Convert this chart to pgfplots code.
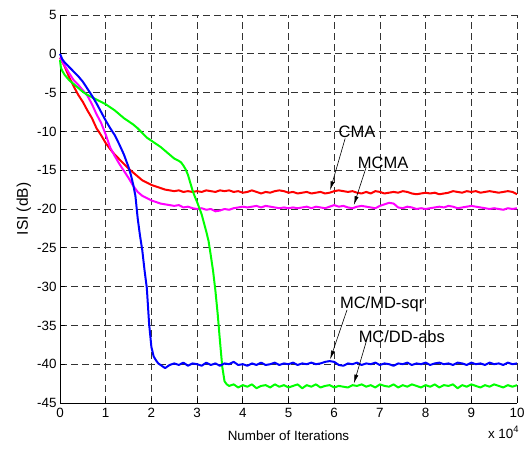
\documentclass[border=0pt]{standalone}
\usepackage{pgfplots}
\pgfplotsset{compat=1.18}
\usepackage{fontspec}
\setmainfont{Liberation Sans}
\usetikzlibrary{arrows.meta}
\begin{document}
\begin{tikzpicture}[x=1pt,y=1pt]
\useasboundingbox (0,0) rectangle (530,449);
\begin{axis}[
    at={(60pt,46pt)}, anchor=south west,
    scale only axis,
    width=457pt, height=388pt,
    xmin=0, xmax=10, ymin=-45, ymax=5,
    xtick={0,1,...,10}, ytick={-45,-40,...,5},
    axis lines=left,
    axis line style={-, black, line width=0.8pt},
    tick align=inside,
    major tick length=5pt,
    tick style={black, line width=0.8pt},
    grid=major,
    grid style={black!80, dash pattern=on 6.5pt off 4.5pt, line width=0.7pt},
    /pgf/number format/assume math mode=true,
    tick label style={font=\fontsize{13.4}{15}\selectfont},
    xticklabel style={yshift=-2pt},
    xlabel={Number of Iterations},
    ylabel={ISI (dB)},
    xlabel style={font=\fontsize{13.4}{15}\selectfont, at={(axis description cs:0.5,-0.085)}, anchor=center},
    ylabel style={font=\fontsize{15.5}{17}\selectfont, at={(axis description cs:-0.079,0.5)}, anchor=center},
    clip=false,
    every axis plot/.append style={line width=2pt, line join=round},
]
% CMA
\addplot[color={rgb,255:red,255;green,0;blue,0}] coordinates {
(0,-0.5) (0.1,-1.6) (0.2,-3.0) (0.3,-4.2) (0.4,-5.3) (0.5,-6.2) (0.6,-7.3) (0.7,-8.3)
(0.8,-9.6) (0.9,-10.5) (1.0,-11.5) (1.1,-12.3) (1.2,-13.0) (1.3,-13.6) (1.4,-14.2)
(1.5,-14.8) (1.6,-15.3) (1.7,-15.8) (1.8,-16.3) (1.9,-16.6) (2.0,-16.9) (2.1,-17.1)
(2.2,-17.3) (2.3,-17.5) (2.4,-17.6) (2.5,-17.7) (2.6,-17.6) (2.7,-17.8) (2.8,-17.7)
(2.9,-17.8) (3.0,-17.7) (3.1,-17.8) (3.2,-17.6) (3.3,-17.7) (3.4,-17.8) (3.5,-17.6)
(3.6,-17.7) (3.7,-17.6) (3.8,-17.8) (3.9,-17.7) (4.0,-17.9) (4.1,-17.8) (4.2,-17.6)
(4.3,-17.8) (4.4,-18.0) (4.5,-17.8) (4.6,-17.9) (4.7,-17.7) (4.8,-17.6) (4.9,-17.7)
(5.0,-17.9) (5.1,-17.8) (5.2,-18.0) (5.3,-17.9) (5.4,-17.8) (5.5,-18.0) (5.6,-17.9)
(5.7,-17.8) (5.8,-18.0) (5.9,-17.9) (6.0,-17.7) (6.1,-17.6) (6.2,-17.7) (6.3,-17.8)
(6.4,-17.7) (6.5,-17.9) (6.6,-18.0) (6.7,-17.8) (6.8,-18.0) (6.9,-17.7) (7.0,-17.8)
(7.1,-18.0) (7.2,-17.9) (7.3,-17.8) (7.4,-17.9) (7.5,-17.7) (7.6,-17.8) (7.7,-18.0)
(7.8,-18.1) (7.9,-18.0) (8.0,-17.9) (8.1,-18.0) (8.2,-17.9) (8.3,-18.1) (8.4,-18.0)
(8.5,-17.9) (8.6,-17.7) (8.7,-17.8) (8.8,-17.9) (8.9,-17.7) (9.0,-17.8) (9.1,-17.7)
(9.2,-17.9) (9.3,-17.8) (9.4,-17.7) (9.5,-17.8) (9.6,-17.9) (9.7,-17.8) (9.8,-17.7)
(9.9,-17.8) (10.0,-18.1)
};
% MCMA
\addplot[color={rgb,255:red,255;green,0;blue,255}] coordinates {
(0,-0.5) (0.1,-1.5) (0.2,-2.5) (0.3,-3.4) (0.4,-4.0) (0.5,-4.7) (0.6,-5.4) (0.7,-6.5)
(0.8,-7.8) (0.9,-8.9) (1.0,-10.4) (1.1,-12.1) (1.2,-13.2) (1.3,-14.2) (1.4,-15.1)
(1.5,-16.0) (1.6,-17.0) (1.7,-17.8) (1.8,-18.3) (1.9,-18.6) (2.0,-18.9) (2.1,-19.1)
(2.2,-19.3) (2.3,-19.4) (2.4,-19.5) (2.5,-19.6) (2.6,-19.5) (2.7,-19.8) (2.8,-19.7)
(2.9,-19.9) (3.0,-20.0) (3.1,-19.9) (3.2,-20.1) (3.3,-20.0) (3.4,-20.3) (3.5,-20.2)
(3.6,-20.0) (3.7,-20.1) (3.8,-19.9) (3.9,-19.8) (4.0,-19.7) (4.1,-19.8) (4.2,-19.7)
(4.3,-19.6) (4.4,-19.8) (4.5,-19.6) (4.6,-19.7) (4.7,-19.8) (4.8,-19.9) (4.9,-19.8)
(5.0,-19.9) (5.1,-19.8) (5.2,-19.9) (5.3,-19.8) (5.4,-19.7) (5.5,-19.9) (5.6,-19.7)
(5.7,-19.8) (5.8,-19.9) (5.9,-19.7) (6.0,-19.5) (6.1,-19.7) (6.2,-19.6) (6.3,-19.8)
(6.4,-19.9) (6.5,-19.7) (6.6,-19.6) (6.7,-19.7) (6.8,-19.8) (6.9,-19.9) (7.0,-19.6)
(7.1,-19.4) (7.2,-19.2) (7.3,-19.3) (7.4,-19.8) (7.5,-19.9) (7.6,-19.7) (7.7,-19.8)
(7.8,-20.0) (7.9,-19.9) (8.0,-20.0) (8.1,-19.9) (8.2,-19.8) (8.3,-19.7) (8.4,-19.8)
(8.5,-19.6) (8.6,-19.7) (8.7,-19.9) (8.8,-19.8) (8.9,-19.7) (9.0,-19.6) (9.1,-19.7)
(9.2,-19.8) (9.3,-19.9) (9.4,-20.0) (9.5,-19.9) (9.6,-20.0) (9.7,-20.1) (9.8,-19.9)
(9.9,-20.0) (10.0,-19.9)
};
% MC/DD-abs
\addplot[color={rgb,255:red,0;green,255;blue,0}] coordinates {
(0,-0.8) (0.02,-1.8) (0.05,-2.2) (0.1,-2.7) (0.2,-3.4) (0.3,-3.9) (0.4,-4.4) (0.5,-4.9)
(0.6,-5.3) (0.7,-5.6) (0.8,-5.9) (0.9,-6.2) (1.0,-6.5) (1.1,-6.9) (1.2,-7.3) (1.3,-7.8)
(1.4,-8.3) (1.5,-8.7) (1.6,-9.1) (1.7,-9.6) (1.8,-10.2) (1.9,-10.8) (2.0,-11.2)
(2.1,-11.6) (2.2,-12.0) (2.3,-12.5) (2.4,-13.0) (2.5,-13.5) (2.6,-13.8) (2.65,-14.0)
(2.7,-14.4) (2.75,-14.9) (2.8,-15.6) (2.85,-16.6) (2.9,-17.6) (2.95,-18.4) (3.0,-19.1)
(3.05,-19.9) (3.1,-20.7) (3.15,-21.8) (3.2,-22.9) (3.25,-24.1) (3.3,-26.0) (3.35,-28.0)
(3.4,-30.5) (3.45,-33.5) (3.5,-37.0) (3.55,-40.3) (3.6,-42.2) (3.65,-42.6)
(3.7,-42.8) (3.8,-42.6) (3.9,-43.0) (4.0,-42.7) (4.1,-42.9) (4.2,-42.6) (4.3,-43.1)
(4.4,-42.8) (4.5,-42.7) (4.6,-43.0) (4.7,-42.6) (4.8,-42.9) (4.9,-42.7) (5.0,-43.0)
(5.1,-42.8) (5.2,-42.6) (5.3,-43.1) (5.4,-42.7) (5.5,-42.9) (5.6,-42.6) (5.7,-43.0)
(5.8,-42.8) (5.9,-42.7) (6.0,-43.0) (6.1,-42.8) (6.2,-42.9) (6.3,-43.0) (6.4,-42.7)
(6.5,-42.8) (6.6,-42.6) (6.7,-42.9) (6.8,-42.7) (6.9,-43.0) (7.0,-42.6) (7.1,-42.8)
(7.2,-42.9) (7.3,-42.6) (7.4,-43.0) (7.5,-42.7) (7.6,-42.9) (7.7,-42.6) (7.8,-42.8)
(7.9,-43.0) (8.0,-42.7) (8.1,-42.9) (8.2,-42.6) (8.3,-43.0) (8.4,-42.7) (8.5,-42.8)
(8.6,-42.6) (8.7,-43.1) (8.8,-42.7) (8.9,-42.9) (9.0,-42.6) (9.1,-42.8) (9.2,-43.0)
(9.3,-42.7) (9.4,-42.9) (9.5,-42.6) (9.6,-42.8) (9.7,-43.0) (9.8,-42.7) (9.9,-42.9)
(10.0,-42.7)
};
% MC/MD-sqr
\addplot[color={rgb,255:red,0;green,0;blue,255}] coordinates {
(0,0) (0.05,-0.7) (0.1,-1.1) (0.2,-1.7) (0.3,-2.3) (0.4,-2.9) (0.5,-3.6) (0.6,-4.5)
(0.7,-5.4) (0.8,-6.4) (0.9,-7.5) (1.0,-8.6) (1.1,-9.6) (1.2,-10.5) (1.3,-11.7)
(1.4,-13.0) (1.5,-14.6) (1.55,-15.6) (1.6,-16.8) (1.65,-18.3) (1.7,-21.2) (1.75,-23.4)
(1.8,-25.3) (1.85,-27.9) (1.9,-30.2) (1.95,-34.8) (2.0,-37.8) (2.05,-39.0) (2.1,-39.5)
(2.15,-39.9) (2.2,-40.1) (2.3,-40.5) (2.4,-40.1) (2.5,-39.9) (2.6,-40.1) (2.7,-39.8)
(2.8,-40.2) (2.9,-39.9) (3.0,-40.0) (3.1,-40.2) (3.2,-39.8) (3.3,-40.1) (3.4,-39.9)
(3.5,-40.2) (3.6,-39.9) (3.7,-40.0) (3.8,-39.7) (3.9,-40.1) (4.0,-40.0) (4.1,-40.2)
(4.2,-39.9) (4.3,-40.1) (4.4,-39.8) (4.5,-40.1) (4.6,-40.0) (4.7,-39.8) (4.8,-40.1)
(4.9,-39.9) (5.0,-40.0) (5.1,-39.8) (5.2,-40.1) (5.3,-39.9) (5.4,-40.0) (5.5,-39.8)
(5.6,-40.0) (5.7,-39.9) (5.8,-39.7) (5.9,-39.6) (6.0,-39.7) (6.1,-40.1) (6.2,-40.2)
(6.3,-39.9) (6.4,-40.0) (6.5,-39.8) (6.6,-40.1) (6.7,-39.9) (6.8,-40.0) (6.9,-39.8)
(7.0,-40.1) (7.1,-39.9) (7.2,-40.0) (7.3,-40.2) (7.4,-39.9) (7.5,-40.0) (7.6,-39.8)
(7.7,-40.1) (7.8,-39.9) (7.9,-40.0) (8.0,-39.8) (8.1,-40.1) (8.2,-39.9) (8.3,-39.8)
(8.4,-40.0) (8.5,-39.9) (8.6,-40.1) (8.7,-39.8) (8.8,-39.9) (8.9,-40.1) (9.0,-39.8)
(9.1,-40.0) (9.2,-39.9) (9.3,-40.1) (9.4,-39.8) (9.5,-40.0) (9.6,-39.9) (9.7,-40.1)
(9.8,-39.8) (9.9,-40.0) (10.0,-39.9)
};
% annotations
\tikzset{ann/.style={font=\fontsize{16.5}{18}\selectfont, inner sep=0pt},
         annarrow/.style={-{Latex[length=9pt,width=4pt]}, black, line width=0.6pt}}
\node[ann] at (axis cs:6.5,-10.1) {CMA};
\draw[annarrow] (axis cs:6.24,-10.9) -- (axis cs:5.91,-17.6);
\node[ann] at (axis cs:7.07,-14.1) {MCMA};
\draw[annarrow] (axis cs:6.7,-14.6) -- (axis cs:6.43,-19.5);
\node[ann] at (axis cs:7.05,-32.3) {MC/MD-sqr};
\draw[annarrow] (axis cs:6.28,-33.0) -- (axis cs:5.91,-39.4);
\node[ann] at (axis cs:7.48,-36.4) {MC/DD-abs};
\draw[annarrow] (axis cs:6.72,-36.7) -- (axis cs:6.43,-42.5);
\node[anchor=north east, font=\fontsize{13.4}{15}\selectfont, inner sep=0pt]
  at (axis cs:10.05,-48.0) {x 10\textsuperscript{4}};
\end{axis}
\end{tikzpicture}
\end{document}
